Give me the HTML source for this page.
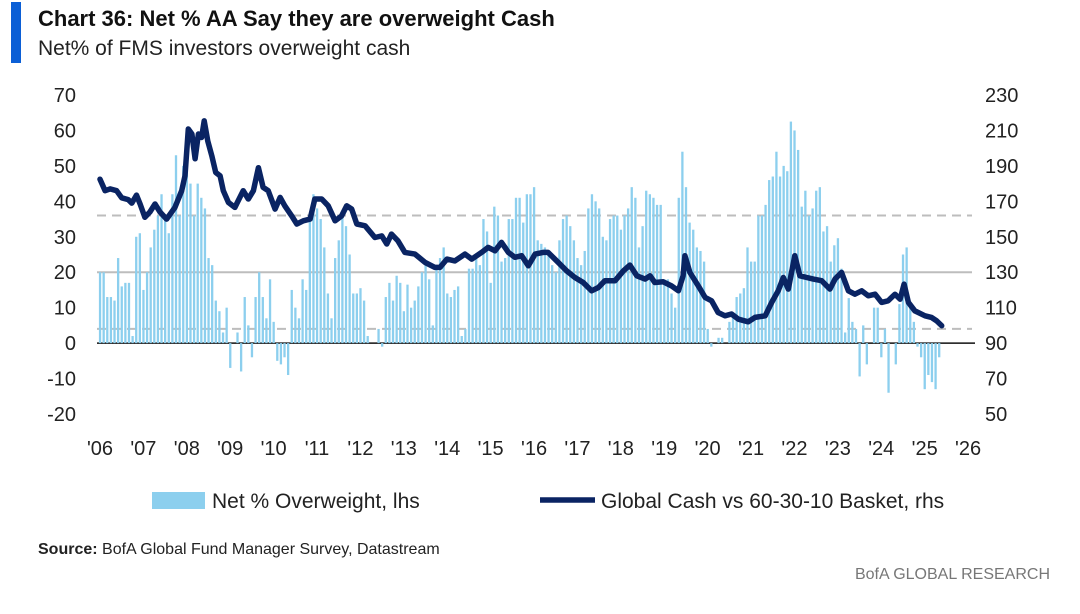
<!DOCTYPE html>
<html><head><meta charset="utf-8">
<style>
body{margin:0;width:1080px;height:614px;background:#fff;overflow:hidden;font-family:"Liberation Sans",sans-serif;}
svg{position:absolute;left:0;top:0}
</style></head>
<body>
<svg id="chart" width="1080" height="614" xmlns="http://www.w3.org/2000/svg">
  <rect x="11" y="2" width="10" height="61" fill="#0b5fd6"/>
  <text x="38" y="26" font-family="Liberation Sans Narrow, Liberation Sans, sans-serif" font-weight="bold" font-size="22" fill="#111">Chart 36: Net % AA Say they are overweight Cash</text>
  <text x="38" y="55" font-family="Liberation Sans Narrow, Liberation Sans, sans-serif" font-size="21" fill="#222">Net% of FMS investors overweight cash</text>
  <g id="axes"></g>
  <g id="bars"></g>
  <g id="line"></g>
  <rect x="152" y="492" width="53" height="17" fill="#8ccfee"/>
  <text x="212" y="508" font-size="21" fill="#222">Net % Overweight, lhs</text>
  <line x1="540" y1="500" x2="595" y2="500" stroke="#0a2463" stroke-width="5.5"/>
  <text x="601" y="508" font-size="21" fill="#222">Global Cash vs 60-30-10 Basket, rhs</text>
  <text x="38" y="554" font-family="Liberation Sans Narrow, Liberation Sans, sans-serif" font-size="16" fill="#222"><tspan font-weight="bold">Source:</tspan> BofA Global Fund Manager Survey, Datastream</text>
  <text x="1050" y="579" text-anchor="end" font-family="Liberation Sans Narrow, Liberation Sans, sans-serif" font-size="16" fill="#777">BofA GLOBAL RESEARCH</text>
</svg>
<script>
const leftTicks=[70,60,50,40,30,20,10,0,-10,-20];
const rightTicks=[230,210,190,170,150,130,110,90,70,50];
const yearLabels=["'06","'07","'08","'09","'10","'11","'12","'13","'14","'15","'16","'17","'18","'19","'20","'21","'22","'23","'24","'25","'26"];
const refLines=[36,20,4];
const barValues=[20,20,13,13,12,24,16,17,17,2,30,31,15,20,27,32,36,42,36,31,42,53,36,50,49,45,36,45,41,38,24,22,12,9,3,10,-7,0,3,-8,13,5,-4,13,20,13,7,18,6,-5,-6,-4,-9,15,10,7,18,15,36,
42,38,35,27,14,7,24,29,36,33,25,14,14,15.5,12,2,0,0,4,-1,13,17,12,19,17,9,16.5,10,12,16,20,23,18,5,22,24,27,14,13,15,16,2,4,21,21,24,22,35,31.5,17,38.5,36,23,24,35,35,41,41,34,42,42,
44,29,28,27,25,22,20,29,35,36,33,29,24,22,26,38,42,40,38,30,29,35,36,36,32,36,38,44,41,27,33,43,42,41,39,39,18,18,14,10,41,54,44,34,32,27,26,23,4,-1,0,1.5,1.5,0,6,8,13,14,15.5,27,23,
23,36,36,39,46,47,54,47,50,48.5,62.5,60,54.5,38.5,43,36,38,43,44,31.5,33,23,27.6,29.6,21,3,12.7,6,4,-9.4,5,-6,0,10,10,-4,4,-14,0,-6,11,25,27,10,6,-1,-4,-13,-9,-11,-13,-4];
const lineMonths=[0,1.4,2.8,4.6,6,7.8,8.8,10.1,11.1,12.4,13.8,15.2,16.6,18.4,20.7,22.6,23.5,24.4,25.4,26.3,27.2,28.1,28.8,29.8,30.9,32,33.2,34.1,35.5,37.3,39.6,41,42.4,43.8,45.1,46.5,48.4,49.8,51.1,53,54.4,56.2,58.1,59.4,
61.3,63.1,65,66.8,68.2,69.6,71,73.3,76,77.9,79.3,80.6,82.4,84.3,87.1,89.9,92.6,94,95.9,98.1,100.9,102.8,105.5,107.3,109.2,111,112.9,114.7,116.6,118.4,120.3,122.5,
123.9,126.7,129,131.3,133.6,135.9,137.8,139.6,142.4,144.7,146.5,148.4,150.7,152.1,153.4,155.7,158,159.9,161.2,161.7,163.1,165.4,167.3,169.1,170.9,172.8,174.6,176.5,179.2,181.1,
183.9,185.7,187.5,188.9,190.3,192.1,193.5,195.4,197.2,199.5,201.8,203.2,205,206.9,208.7,210.6,212.4,214.3,216.1,217.9,219.8,221.2,222.3,223.5,225.3,228.1,229.9,231.3,232.7];
const lineValues=[182.5,176,177,176,172,171,169,173.5,168.5,161,164,168.5,164,160,166.5,176,184.4,210.8,208,194,208,206,215.4,204,195.7,186.3,184.4,176,169.4,166.6,176,171.3,176,189,177.9,176,165.6,172.2,167.5,161.8,157.2,159,160,171.3,
171.3,167.5,159,161.8,167.5,165.6,157.2,156.2,149.6,150.5,145.9,151.5,147.7,141.2,140.2,135.5,132.7,132.7,137.4,136.4,140.2,137.4,141.2,144,142.1,146.8,141.2,138.4,139.3,133.6,140.2,141.2,
141.2,135.5,130.8,127,124.2,119.5,121.4,125.2,125.2,130.8,134,128,126.1,128,124.2,124.6,122.3,119.5,128,139.3,129.9,122.3,115.8,113.9,107.3,105.4,106.4,103.5,102,104.5,
105.4,113,119.5,127,120.5,139.3,128,127,126.1,125.2,120.5,126.1,129.9,119.5,117.6,119.5,116.7,117.6,113,113.9,117.6,114.8,123.3,113,108.2,105.4,104.5,102.6,99.8];

const NS="http://www.w3.org/2000/svg";
const X0=100, PXM=3.617, TOP=95, BOT=414;
const xM=m=>X0+m*PXM;
const yL=v=>TOP+(70-v)*(BOT-TOP)/90;
const yR=v=>TOP+(230-v)*(BOT-TOP)/180;
function mk(tag,attrs,parent){const e=document.createElementNS(NS,tag);for(const k in attrs)e.setAttribute(k,attrs[k]);parent.appendChild(e);return e;}
const axes=document.getElementById('axes'),bars=document.getElementById('bars'),line=document.getElementById('line');

leftTicks.forEach(v=>{const t=mk('text',{x:76,y:yL(v)+7,'text-anchor':'end','font-size':20,fill:'#222'},axes);


t.textContent=v;});
rightTicks.forEach(v=>{const t=mk('text',{x:985,y:yR(v)+7,'font-size':20,fill:'#222'},axes);


t.textContent=v;});
yearLabels.forEach((s,i)=>{const t=mk('text',{x:xM(i*12),y:455,'text-anchor':'middle','font-size':20,fill:'#222'},axes);


t.textContent=s;});

barValues.forEach((v,i)=>{const y0=yL(0),y1=yL(v);const r=mk('rect',{x:xM(i)-1.1,y:Math.min(y0,y1),width:2.3,height:Math.abs(y1-y0),fill:'#8ccfee'},bars);

});

refLines.forEach((v,i)=>{const l=mk('line',{x1:97,x2:972,y1:yL(v),y2:yL(v),stroke:'#bdbdbd','stroke-width':2,'stroke-dasharray':i===1?'':'9,6'},axes);

});

const z=mk('line',{x1:97,x2:975,y1:yL(0),y2:yL(0),stroke:'#111','stroke-width':1.5},axes);



const d=lineMonths.map((m,i)=>(i?'L':'M')+xM(m).toFixed(1)+','+yR(lineValues[i]).toFixed(1)).join(' ');
const p=mk('path',{d:d,fill:'none',stroke:'#0a2463','stroke-width':5.5,'stroke-linejoin':'round','stroke-linecap':'round'},line);


</script>
</body></html>
